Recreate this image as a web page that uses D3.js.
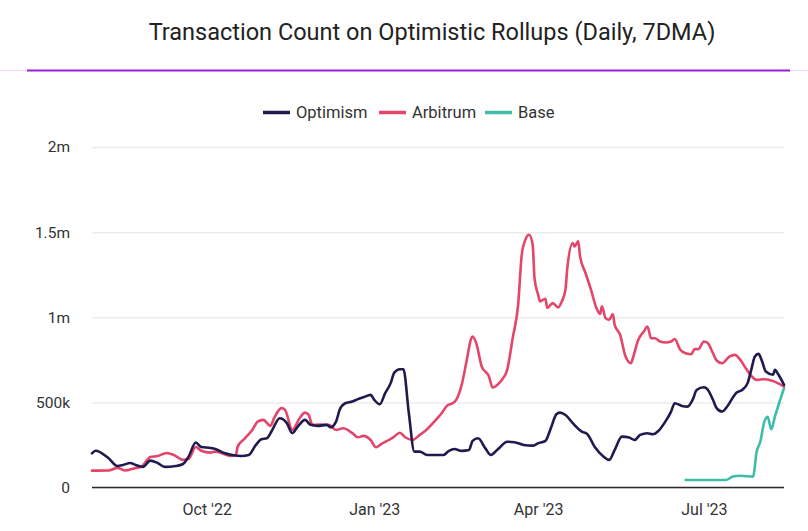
<!DOCTYPE html>
<html>
<head>
<meta charset="utf-8">
<script src="https://cdn.jsdelivr.net/npm/d3@7"></script>
<style>
  html, body { margin: 0; padding: 0; background: #fff; }
  svg { display: block; font-family: Roboto, "Noto Sans", sans-serif; }
</style>
</head>
<body>
<svg id="chart" width="808" height="531"></svg>
<script>
const title = "Transaction Count on Optimistic Rollups (Daily, 7DMA)";
const seriesNames = ["Optimism", "Arbitrum", "Base"];
const seriesColors = ["#1f1b4f", "#e3456b", "#3fbcaa"];
const yTicks = [0, 500000, 1000000, 1500000, 2000000];
const yTickLabels = ["0", "500k", "1m", "1.5m", "2m"];
const xTicks = ["2022-10-01", "2023-01-01", "2023-04-01", "2023-07-01"];
const xTickLabels = ["Oct '22", "Jan '23", "Apr '23", "Jul '23"];
const xDomain = ["2022-07-30", "2023-08-14"];

// values in thousands of transactions
const optimism = [
  ["2022-07-30",201],["2022-08-01",216],["2022-08-08",173],["2022-08-13",126],["2022-08-16",132],
  ["2022-08-20",144],["2022-08-23",132],["2022-08-27",121],["2022-08-31",158],["2022-09-04",144],
  ["2022-09-08",121],["2022-09-14",126],["2022-09-18",138],["2022-09-21",181],["2022-09-25",264],
  ["2022-09-28",238],["2022-10-03",232],["2022-10-06",225],["2022-10-11",201],["2022-10-15",191],
  ["2022-10-20",185],["2022-10-24",191],["2022-10-28",250],["2022-10-31",283],["2022-11-03",289],
  ["2022-11-06",338],["2022-11-10",407],["2022-11-14",378],["2022-11-17",319],["2022-11-20",358],
  ["2022-11-24",397],["2022-11-27",368],["2022-12-01",362],["2022-12-06",368],["2022-12-08",354],
  ["2022-12-11",387],["2022-12-13",456],["2022-12-16",495],["2022-12-20",505],["2022-12-23",519],
  ["2022-12-26",530],["2022-12-30",544],["2023-01-01",515],["2023-01-04",489],["2023-01-07",554],
  ["2023-01-10",613],["2023-01-12",675],["2023-01-15",695],["2023-01-17",695],["2023-01-20",436],
  ["2023-01-23",211],["2023-01-26",211],["2023-01-30",191],["2023-02-03",191],["2023-02-08",191],
  ["2023-02-11",215],["2023-02-14",226],["2023-02-18",215],["2023-02-22",220],["2023-02-24",274],
  ["2023-02-27",289],["2023-03-03",230],["2023-03-06",191],["2023-03-10",226],["2023-03-15",269],
  ["2023-03-19",266],["2023-03-24",250],["2023-03-29",246],["2023-04-01",260],["2023-04-05",274],
  ["2023-04-08",350],["2023-04-11",430],["2023-04-13",440],["2023-04-16",426],["2023-04-20",378],
  ["2023-04-25",328],["2023-04-28",313],["2023-05-02",240],["2023-05-07",181],["2023-05-10",162],
  ["2023-05-13",220],["2023-05-17",299],["2023-05-21",293],["2023-05-24",279],["2023-05-27",309],
  ["2023-05-31",319],["2023-06-03",313],["2023-06-06",332],["2023-06-10",390],["2023-06-13",446],
  ["2023-06-15",495],["2023-06-19",479],["2023-06-22",475],["2023-06-25",519],["2023-06-27",573],
  ["2023-07-01",589],["2023-07-03",577],["2023-07-06",515],["2023-07-08",466],["2023-07-11",446],
  ["2023-07-14",479],["2023-07-17",530],["2023-07-19",558],["2023-07-22",573],["2023-07-25",613],
  ["2023-07-27",691],["2023-07-29",769],["2023-07-31",785],["2023-08-02",740],["2023-08-04",681],
  ["2023-08-08",662],["2023-08-09",691],["2023-08-11",662],["2023-08-14",603]
];
const arbitrum = [
  ["2022-07-30",99],["2022-08-08",100],["2022-08-13",115],["2022-08-17",100],["2022-08-23",115],
  ["2022-08-26",122],["2022-08-31",179],["2022-09-04",185],["2022-09-09",203],["2022-09-13",191],
  ["2022-09-18",162],["2022-09-21",167],["2022-09-25",238],["2022-09-28",216],["2022-10-03",205],
  ["2022-10-06",211],["2022-10-09",203],["2022-10-14",185],["2022-10-17",191],["2022-10-18",240],
  ["2022-10-22",289],["2022-10-26",338],["2022-10-29",387],["2022-11-01",397],["2022-11-05",362],
  ["2022-11-07",407],["2022-11-11",466],["2022-11-13",456],["2022-11-17",338],["2022-11-21",407],
  ["2022-11-24",440],["2022-11-26",427],["2022-11-28",368],["2022-12-02",370],["2022-12-07",368],
  ["2022-12-11",338],["2022-12-15",348],["2022-12-20",319],["2022-12-23",295],["2022-12-26",303],
  ["2022-12-30",279],["2023-01-02",236],["2023-01-05",256],["2023-01-09",279],["2023-01-12",299],
  ["2023-01-15",322],["2023-01-18",295],["2023-01-22",279],["2023-01-26",309],["2023-01-30",342],
  ["2023-02-03",387],["2023-02-07",436],["2023-02-10",481],["2023-02-13",495],["2023-02-15",515],
  ["2023-02-18",603],["2023-02-21",760],["2023-02-23",868],["2023-02-24",887],["2023-02-26",848],
  ["2023-03-01",711],["2023-03-05",652],["2023-03-07",587],["2023-03-10",607],["2023-03-12",632],
  ["2023-03-15",691],["2023-03-18",877],["2023-03-21",1073],["2023-03-23",1368],["2023-03-25",1456],
  ["2023-03-27",1485],["2023-03-29",1426],["2023-03-30",1230],["2023-04-01",1132],["2023-04-02",1093],
  ["2023-04-05",1109],["2023-04-06",1054],["2023-04-09",1083],["2023-04-12",1058],["2023-04-14",1093],
  ["2023-04-16",1162],["2023-04-17",1289],["2023-04-20",1436],["2023-04-21",1416],["2023-04-23",1446],
  ["2023-04-24",1358],["2023-04-27",1260],["2023-04-30",1162],["2023-05-03",1054],["2023-05-05",1019],
  ["2023-05-06",1064],["2023-05-08",995],["2023-05-10",985],["2023-05-12",1019],["2023-05-13",956],
  ["2023-05-16",897],["2023-05-19",769],["2023-05-22",730],["2023-05-23",760],["2023-05-26",868],
  ["2023-05-29",916],["2023-05-31",946],["2023-06-02",877],["2023-06-04",877],["2023-06-07",858],
  ["2023-06-10",852],["2023-06-13",858],["2023-06-15",872],["2023-06-18",809],["2023-06-21",789],
  ["2023-06-24",783],["2023-06-26",813],["2023-06-28",813],["2023-07-01",858],["2023-07-03",850],
  ["2023-07-06",789],["2023-07-08",746],["2023-07-11",730],["2023-07-15",769],["2023-07-18",779],
  ["2023-07-21",750],["2023-07-24",701],["2023-07-27",656],["2023-07-30",632],["2023-08-03",636],
  ["2023-08-07",628],["2023-08-10",616],["2023-08-14",593]
];
const base = [
  ["2023-06-21",44],["2023-07-13",44],["2023-07-17",64],["2023-07-21",69],["2023-07-28",64],
  ["2023-07-30",211],["2023-08-01",269],["2023-08-03",378],["2023-08-05",416],["2023-08-07",342],
  ["2023-08-09",416],["2023-08-14",583]
];

const parse = d3.timeParse("%Y-%m-%d");
const seriesData = [optimism, arbitrum, base].map(arr => arr.map(([d, v]) => ({date: parse(d), value: v * 1000})));

const svg = d3.select("#chart");
const W = 808, H = 531;
const plot = {left: 92, right: 784, top: 147, bottom: 487.5};

const x = d3.scaleTime().domain(xDomain.map(parse)).range([plot.left, plot.right]);
const y = d3.scaleLinear().domain([0, 2000000]).range([plot.bottom, plot.top]);

// Title
svg.append("text")
  .attr("x", 432).attr("y", 40)
  .attr("text-anchor", "middle")
  .attr("font-size", 23.5)
  .attr("fill", "#222")
  .text(title);

// Divider
svg.append("line").attr("x1", 0).attr("x2", W).attr("y1", 70.5).attr("y2", 70.5)
  .attr("stroke", "#e9d6f7").attr("stroke-width", 1);
svg.append("line").attr("x1", 27).attr("x2", 790).attr("y1", 70.5).attr("y2", 70.5)
  .attr("stroke", "#9b1fd8").attr("stroke-width", 2);

// Legend
const legendX = [263, 379, 485];
const legend = svg.append("g");
seriesNames.forEach((name, i) => {
  const g = legend.append("g").attr("transform", `translate(${legendX[i]},112.5)`);
  g.append("line").attr("x1", 0).attr("x2", 27).attr("y1", 0).attr("y2", 0)
    .attr("stroke", seriesColors[i]).attr("stroke-width", 3.5);
  g.append("text").attr("x", 33).attr("y", 0).attr("dy", "0.35em")
    .attr("font-size", 16.5).attr("fill", "#333").text(name);
});

// Y gridlines and labels
const yAxis = d3.axisLeft(y).tickValues(yTicks).tickSize(-(plot.right - plot.left))
  .tickFormat((d, i) => yTickLabels[i]).tickPadding(22);
const gy = svg.append("g").attr("transform", `translate(${plot.left},0)`).call(yAxis);
gy.select(".domain").remove();
gy.selectAll(".tick line").attr("stroke", "#ececec").attr("stroke-width", 1.5);
gy.selectAll(".tick text").attr("font-size", 15.5).attr("fill", "#333")
  .attr("font-family", "Roboto, sans-serif");

// Baseline
svg.append("line").attr("x1", plot.left).attr("x2", plot.right)
  .attr("y1", y(0)).attr("y2", y(0)).attr("stroke", "#2a2a2a").attr("stroke-width", 1.5);

// X axis labels
const xAxis = d3.axisBottom(x).tickValues(xTicks.map(parse))
  .tickFormat((d, i) => xTickLabels[i]).tickSize(0).tickPadding(16);
const gx = svg.append("g").attr("transform", `translate(0,${plot.bottom})`).call(xAxis);
gx.select(".domain").remove();
gx.selectAll(".tick text").attr("font-size", 16).attr("fill", "#333")
  .attr("font-family", "Roboto, sans-serif");

// Lines
const line = d3.line().x(d => x(d.date)).y(d => y(d.value)).curve(d3.curveMonotoneX);
// draw order: Arbitrum, Optimism, Base
[1, 0, 2].forEach(i => {
  svg.append("path").datum(seriesData[i])
    .attr("fill", "none").attr("stroke", seriesColors[i])
    .attr("stroke-width", 2.6).attr("stroke-linejoin", "round").attr("stroke-linecap", "round")
    .attr("d", line);
});
</script>
</body>
</html>
